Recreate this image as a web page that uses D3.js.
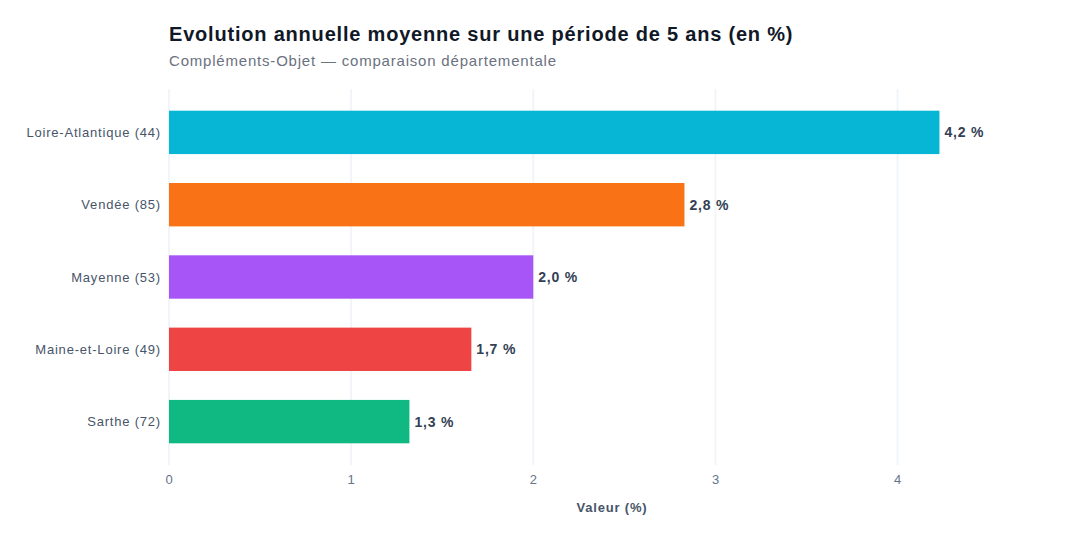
<!DOCTYPE html>
<html>
<head>
<meta charset="utf-8">
<script src="https://cdn.jsdelivr.net/npm/d3@7"></script>
<style>
  body { margin: 0; background: #fff; }
  svg { font-family: "Liberation Sans", Arial, sans-serif; }
  svg text { letter-spacing: 0.8px; }
</style>
</head>
<body>
<div id="content"></div>
<script>
// data
var departements = ["Loire-Atlantique (44)", "Vendée (85)", "Mayenne (53)", "Maine-et-Loire (49)", "Sarthe (72)"];
var valeurs = [4.23, 2.83, 2.0, 1.66, 1.32];
var couleurs = ["#06b6d4", "#f97316", "#a855f7", "#ef4444", "#10b981"];
var xTicks = [0, 1, 2, 3, 4];

var margin = {top: 89, right: 25, bottom: 75, left: 169},
  width = 1080 - margin.left - margin.right,
  height = 540 - margin.top - margin.bottom;

var svg = d3.select("#content").append("svg")
  .attr("width", 1080)
  .attr("height", 540);

// titles
svg.append("text")
  .attr("x", margin.left).attr("y", 41)
  .attr("font-size", 20).attr("font-weight", "bold")
  .attr("fill", "#111827")
  .text("Evolution annuelle moyenne sur une période de 5 ans (en %)");
svg.append("text")
  .attr("x", margin.left).attr("y", 66)
  .attr("font-size", 15)
  .attr("fill", "#6b7280")
  .text("Compléments-Objet — comparaison départementale");

var g = svg.append("g")
  .attr("transform", "translate(" + margin.left + "," + margin.top + ")");

var x = d3.scaleLinear().domain([0, d3.max(valeurs) * 1.15]).range([0, width]);
var y = d3.scaleBand().domain(departements).range([0, height])
  .paddingInner(0.4).paddingOuter(0.3);

// grid
g.selectAll(".grid").data(xTicks).enter().append("line")
  .attr("x1", function(d) { return x(d); })
  .attr("x2", function(d) { return x(d); })
  .attr("y1", 0).attr("y2", height)
  .attr("stroke", "#f1f5f9").attr("stroke-width", 2);

// bars
g.selectAll(".bar").data(valeurs).enter().append("rect")
  .attr("x", x(0))
  .attr("y", function(d, i) { return y(departements[i]); })
  .attr("width", function(d) { return x(d) - x(0); })
  .attr("height", y.bandwidth())
  .attr("fill", function(d, i) { return couleurs[i]; });

// value labels
g.selectAll(".val").data(valeurs).enter().append("text")
  .attr("x", function(d) { return x(d) + 5; })
  .attr("y", function(d, i) { return y(departements[i]) + y.bandwidth() / 2; })
  .attr("dy", "0.35em")
  .attr("font-size", 14).attr("font-weight", "bold")
  .attr("fill", "#334155")
  .text(function(d) { return d.toFixed(1).replace(".", ",") + " %"; });

// y labels
g.selectAll(".ylab").data(departements).enter().append("text")
  .attr("x", -8)
  .attr("y", function(d) { return y(d) + y.bandwidth() / 2; })
  .attr("dy", "0.35em")
  .attr("text-anchor", "end")
  .attr("font-size", 13)
  .attr("fill", "#475569")
  .text(function(d) { return d; });

// x axis
var xAxis = g.append("g")
  .attr("transform", "translate(0," + height + ")")
  .call(d3.axisBottom(x).tickValues(xTicks).tickSize(0).tickPadding(10).tickFormat(d3.format("d")));
xAxis.select(".domain").remove();
xAxis.selectAll("text")
  .attr("font-family", "Liberation Sans, Arial, sans-serif")
  .attr("font-size", 13).attr("fill", "#64748b");

svg.append("text")
  .attr("x", margin.left + width / 2).attr("y", 512)
  .attr("text-anchor", "middle")
  .attr("font-size", 13).attr("font-weight", "bold")
  .attr("fill", "#475569")
  .text("Valeur (%)");
</script>
</body>
</html>
